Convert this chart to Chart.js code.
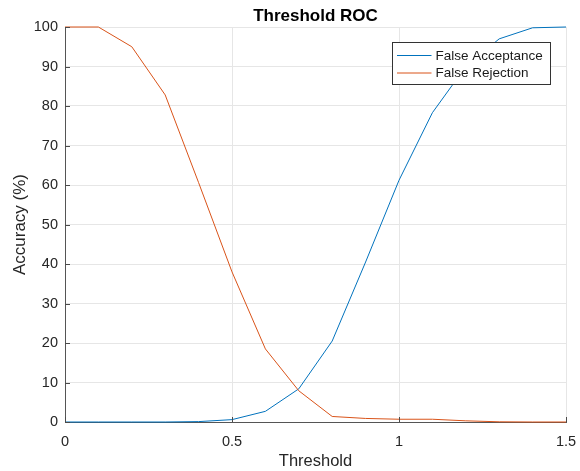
<!DOCTYPE html>
<html lang="en">
<head>
    <meta charset="UTF-8">
    <title>Threshold ROC</title>
    <script src="https://cdn.jsdelivr.net/npm/chart.js"></script>
    <style>
        html, body { margin: 0; padding: 0; background: #fff; }
        #wrap { width: 580px; height: 471px; }
    </style>
</head>
<body>
<div id="wrap"><canvas id="rocChart"></canvas></div>

<script>
    // values
    const thresholds = [0, 0.1, 0.2, 0.3, 0.4, 0.5, 0.6, 0.7, 0.8, 0.9, 1.0, 1.1, 1.2, 1.3, 1.4, 1.5];
    const falseAcceptance = [0, 0, 0, 0, 0.1, 0.6, 2.7, 8.4, 20.5, 40.5, 61.2, 78.3, 90, 97, 99.8, 100];
    const falseRejection = [100, 100, 95, 82.8, 60.6, 38, 18.5, 7.9, 1.4, 0.9, 0.7, 0.7, 0.3, 0.05, 0, 0];
    const xTicks = [0, 0.5, 1, 1.5];
    const yTicks = [0, 10, 20, 30, 40, 50, 60, 70, 80, 90, 100];
    const seriesNames = ['False Acceptance', 'False Rejection'];
    const seriesColors = ['#0072BD', '#D95319'];

    const FONT = 'Helvetica, "Liberation Sans", Arial, sans-serif';

    function toPoints(values) {
        return thresholds.map((t, i) => ({ x: t, y: values[i] }));
    }

    // title, inward tick marks and boxed legend, matlab style
    const matlabBits = {
        id: 'matlabBits',
        afterDatasetsDraw(chart) {
            const ctx = chart.ctx;
            const area = chart.chartArea;
            const xs = chart.scales.x;
            const ys = chart.scales.y;

            ctx.save();
            ctx.strokeStyle = '#4a4a4a';
            ctx.lineWidth = 1;
            ctx.beginPath();
            xTicks.forEach(v => {
                const px = Math.round(xs.getPixelForValue(v)) + 0.5;
                ctx.moveTo(px, area.bottom);
                ctx.lineTo(px, area.bottom - 5);
            });
            yTicks.forEach(v => {
                const py = Math.round(ys.getPixelForValue(v)) + 0.5;
                ctx.moveTo(area.left, py);
                ctx.lineTo(area.left + 5, py);
            });
            ctx.stroke();

            // title
            ctx.fillStyle = '#000';
            ctx.font = 'bold 17px ' + FONT;
            ctx.textAlign = 'center';
            ctx.textBaseline = 'middle';
            ctx.fillText('Threshold ROC', (area.left + area.right) / 2, 16);

            // legend
            const bx = area.right - 173.5, by = area.top + 15.5, bw = 158, bh = 42;
            ctx.fillStyle = '#fff';
            ctx.fillRect(bx, by, bw, bh);
            ctx.strokeStyle = '#333';
            ctx.strokeRect(bx, by, bw, bh);
            ctx.font = '13.5px ' + FONT;
            ctx.textAlign = 'left';
            chart.data.datasets.forEach((ds, i) => {
                const ry = by + 13 + i * 17.5;
                ctx.strokeStyle = ds.borderColor;
                ctx.beginPath();
                ctx.moveTo(bx + 4.5, ry);
                ctx.lineTo(bx + 39, ry);
                ctx.stroke();
                ctx.fillStyle = '#1a1a1a';
                ctx.fillText(ds.label, bx + 43, ry + 0.5);
            });
            ctx.restore();
        }
    };

    const ctx = document.getElementById('rocChart').getContext('2d');
    const chart = new Chart(ctx, {
        type: 'line',
        data: {
            datasets: [
                {
                    label: seriesNames[0],
                    data: toPoints(falseAcceptance),
                    borderColor: seriesColors[0],
                    borderWidth: 1,
                    pointRadius: 0,
                    tension: 0,
                    fill: false,
                    clip: 3,
                    order: 1
                },
                {
                    label: seriesNames[1],
                    data: toPoints(falseRejection),
                    borderColor: seriesColors[1],
                    borderWidth: 1,
                    pointRadius: 0,
                    tension: 0,
                    fill: false,
                    clip: 3,
                    order: 0
                }
            ]
        },
        options: {
            responsive: true,
            maintainAspectRatio: false,
            animation: false,
            layout: { padding: { top: 27, right: 14, left: 0, bottom: 0 } },
            plugins: {
                legend: { display: false },
                title: { display: false },
                tooltip: { enabled: false }
            },
            scales: {
                x: {
                    type: 'linear',
                    min: 0,
                    max: 1.5,
                    afterBuildTicks: scale => { scale.ticks = xTicks.map(v => ({ value: v })); },
                    afterFit: scale => {
                        scale.height = 49;
                        scale.paddingLeft = 0;
                        scale.paddingRight = 0;
                    },
                    grid: { color: '#e6e6e6', drawTicks: false, lineWidth: 1 },
                    border: { display: true, color: '#555', width: 1 },
                    ticks: {
                        padding: 11,
                        color: '#262626',
                        font: { family: FONT, size: 14.5 },
                        maxRotation: 0,
                        autoSkip: false,
                        callback: v => String(v)
                    },
                    title: {
                        display: true,
                        text: 'Threshold',
                        color: '#262626',
                        font: { family: FONT, size: 16.5, lineHeight: 1.1 },
                        padding: { top: 0, bottom: 0 }
                    }
                },
                y: {
                    type: 'linear',
                    min: 0,
                    max: 100,
                    afterBuildTicks: scale => { scale.ticks = yTicks.map(v => ({ value: v })); },
                    afterFit: scale => {
                        scale.width = 65;
                        scale.paddingTop = 0;
                        scale.paddingBottom = 0;
                    },
                    grid: { color: '#e6e6e6', drawTicks: false, lineWidth: 1 },
                    border: { display: true, color: '#555', width: 1 },
                    ticks: {
                        padding: 7,
                        color: '#262626',
                        font: { family: FONT, size: 14.5 },
                        autoSkip: false
                    },
                    title: {
                        display: true,
                        text: 'Accuracy (%)',
                        color: '#262626',
                        font: { family: FONT, size: 17 },
                        padding: { top: 10, bottom: 10 }
                    }
                }
            }
        },
        plugins: [matlabBits]
    });
</script>
</body>
</html>
